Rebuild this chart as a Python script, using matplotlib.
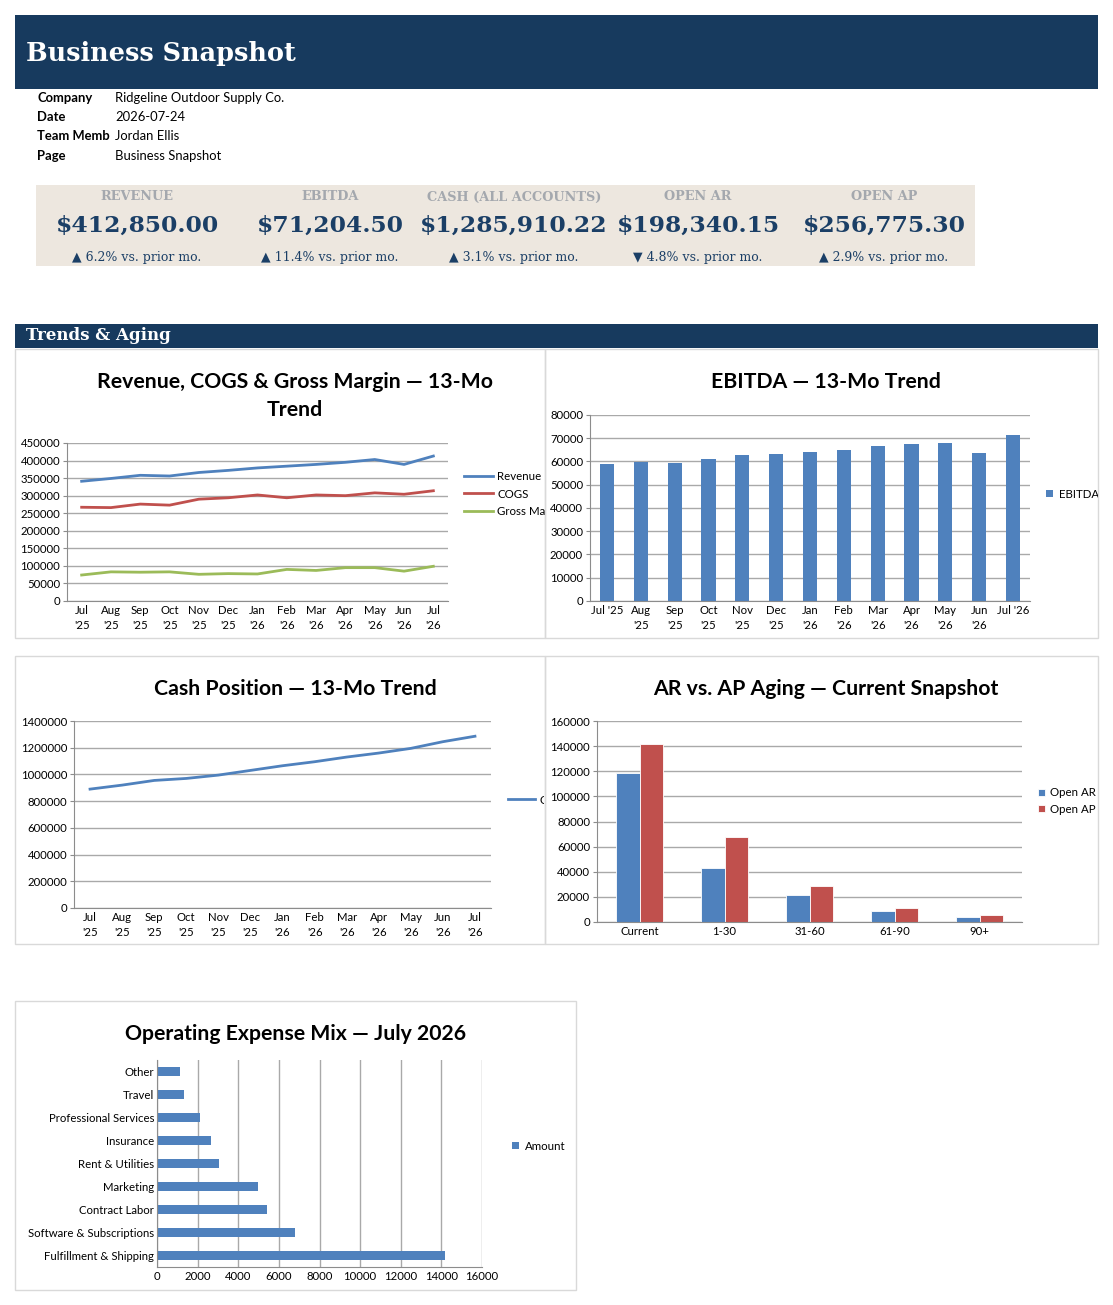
import matplotlib
matplotlib.use("Agg")
import matplotlib.pyplot as plt
from matplotlib.patches import Rectangle
from matplotlib.transforms import Bbox, TransformedBbox
from matplotlib.ticker import FuncFormatter, MultipleLocator
import numpy as np

W, H = 1113, 1305
NAVY = "#173a5e"
BLUE = "#4f81bd"
RED = "#c0504d"
GREEN = "#9bbb59"
GRID = "#a9a9a9"
SANS = ["Lato", "DejaVu Sans"]
SERIF = ["DejaVu Serif", "DejaVu Sans"]

# ---- data ----
info_labels = ["Company", "Date", "Team Memb", "Page"]
info_values = ["Ridgeline Outdoor Supply Co.", "2026-07-24", "Jordan Ellis", "Business Snapshot"]

kpi_names = ["REVENUE", "EBITDA", "CASH (ALL ACCOUNTS)", "OPEN AR", "OPEN AP"]
kpi_values = ["$412,850.00", "$71,204.50", "$1,285,910.22", "$198,340.15", "$256,775.30"]
kpi_changes = ["\u25b2 6.2% vs. prior mo.", "\u25b2 11.4% vs. prior mo.", "\u25b2 3.1% vs. prior mo.",
               "\u25bc 4.8% vs. prior mo.", "\u25b2 2.9% vs. prior mo."]

months = ["Jul '25", "Aug '25", "Sep '25", "Oct '25", "Nov '25", "Dec '25", "Jan '26",
          "Feb '26", "Mar '26", "Apr '26", "May '26", "Jun '26", "Jul '26"]
revenue = [341000, 349000, 358000, 356000, 366000, 372000, 379000, 384000, 389000, 395000, 403000, 389000, 412850]
cogs = [267000, 266000, 276000, 273000, 290000, 294000, 302000, 294000, 302000, 300000, 308000, 304000, 314000]
gross_margin = [74000, 83000, 82000, 83000, 76000, 78000, 77000, 90000, 87000, 95000, 95000, 85000, 98850]
ebitda = [58900, 59800, 59300, 61000, 62800, 63200, 64100, 65000, 66700, 67600, 68000, 63700, 71204.5]
cash = [890000, 920000, 955000, 970000, 995000, 1030000, 1065000, 1095000, 1130000, 1160000, 1195000, 1245000, 1285910]

aging_buckets = ["Current", "1-30", "31-60", "61-90", "90+"]
open_ar = [118500, 43000, 21300, 8600, 4300]
open_ap = [142000, 67800, 28500, 10900, 5300]

opex_cats = ["Fulfillment & Shipping", "Software & Subscriptions", "Contract Labor", "Marketing",
             "Rent & Utilities", "Insurance", "Professional Services", "Travel", "Other"]
opex_amt = [14200, 6800, 5400, 4950, 3050, 2650, 2100, 1350, 1150]

fig = plt.figure(figsize=(W / 100, H / 100), dpi=100)

# canvas axes in pixel coords for the page furniture
cv = fig.add_axes([0, 0, 1, 1])
cv.set_xlim(0, W)
cv.set_ylim(H, 0)
cv.axis("off")
cv.set_zorder(-1)

cv.add_patch(Rectangle((15, 15), 1083, 74, color=NAVY, lw=0))
cv.text(26, 53, "Business Snapshot", color="white", fontsize=18.4, fontweight="bold",
        family=SERIF, va="center", ha="left")

for i, (lab, val) in enumerate(zip(info_labels, info_values)):
    y = [98, 117, 136, 156][i]
    cv.text(37, y, lab, fontsize=9.4, fontweight="bold", family=SANS, va="center")
    cv.text(115, y, val, fontsize=9.4, family=SANS, va="center")

cv.add_patch(Rectangle((36, 185), 939, 81, color="#ede7df", lw=0))
kpi_x = [137, 330, 514, 698, 884]
for x, n, v, c in zip(kpi_x, kpi_names, kpi_values, kpi_changes):
    cv.text(x, 197, n, fontsize=9.3, fontweight="bold", family=SERIF, color="#a4a8ae",
            ha="center", va="center")
    cv.text(x, 226, v, fontsize=16.8, fontweight="bold", family=SERIF, color="#1b3f66",
            ha="center", va="center")
    cv.text(x, 257, c, fontsize=9, family=SERIF, color="#1b3f66", ha="center", va="center")

cv.add_patch(Rectangle((15, 324), 1083, 24, color=NAVY, lw=0))
cv.text(26, 336, "Trends & Aging", color="white", fontsize=12, fontweight="bold",
        family=SERIF, va="center")

panels = [(15, 349, 545, 638), (545, 349, 1098, 638), (15, 656, 545, 944),
          (545, 656, 1098, 944), (15, 1001, 576, 1290)]
for x0, y0, x1, y1 in panels:
    cv.add_patch(Rectangle((x0, y0), x1 - x0, y1 - y0, fill=False, ec="#d9d9d9", lw=1))

titles = ["Revenue, COGS & Gross Margin \u2014 13-Mo\nTrend", "EBITDA \u2014 13-Mo Trend",
          "Cash Position \u2014 13-Mo Trend", "AR vs. AP Aging \u2014 Current Snapshot",
          "Operating Expense Mix \u2014 July 2026"]
title_pos = [(295, 396), (826, 382), (295, 689), (826, 689), (296, 1034)]
for t, (x, y) in zip(titles, title_pos):
    cv.text(x, y, t, fontsize=15.3, fontweight="bold", family=SANS, ha="center", va="center",
            linespacing=1.45)


def box(x0, y0, x1, y1):
    return [x0 / W, 1 - y1 / H, (x1 - x0) / W, (y1 - y0) / H]


def style(ax, vertical_grid=False):
    for s in ["top", "right"]:
        ax.spines[s].set_visible(False)
    ax.spines["left"].set_color("#8c8c8c")
    ax.spines["bottom"].set_color("#8c8c8c")
    ax.grid(True, axis="x" if vertical_grid else "y", color=GRID, lw=1)
    ax.set_axisbelow(True)
    ax.tick_params(labelsize=8.2, colors="#8c8c8c", labelcolor="black", length=3, pad=2)
    for lab in ax.get_xticklabels() + ax.get_yticklabels():
        lab.set_family(SANS)
        lab.set_linespacing(1.45)


def legend(ax, x, y, clip_x, **kw):
    leg = ax.legend(loc="center left", bbox_to_anchor=(x / W, 1 - y / H),
                    bbox_transform=fig.transFigure, frameon=False,
                    prop={"family": SANS, "size": 8.3}, borderpad=0, borderaxespad=0, **kw)
    clip = TransformedBbox(Bbox.from_extents(0, 0, clip_x / W, 1), fig.transFigure)
    for t in leg.get_texts():
        t.set_clip_box(clip)
        t.set_clip_on(True)
    return leg


fmt = FuncFormatter(lambda v, p: f"{v:.0f}")
wrapped = [m.replace(" ", "\n") for m in months]
xs = np.arange(len(months))

# chart 1 (legend labels cut at the panel edge, as in the sheet)
ax1 = fig.add_axes(box(67, 443, 448, 601))
ax1.plot(xs, revenue, color=BLUE, lw=2, label="Revenue")
ax1.plot(xs, cogs, color=RED, lw=2, label="COGS")
ax1.plot(xs, gross_margin, color=GREEN, lw=2, label="Gross Ma")
ax1.set_xlim(-0.5, 12.5)
ax1.set_ylim(0, 450000)
ax1.yaxis.set_major_locator(MultipleLocator(50000))
ax1.yaxis.set_major_formatter(fmt)
ax1.set_xticks(xs, wrapped)
style(ax1)
ax1.tick_params(axis="x", length=0, pad=3)
legend(ax1, 464, 494, 545, handlelength=2.5, handletextpad=0.4, labelspacing=0.55)

# chart 2
ax2 = fig.add_axes(box(590, 415, 1030, 601))
ax2.bar(xs, ebitda, width=0.42, color=BLUE, label="EBITDA")
ax2.set_xlim(-0.5, 12.5)
ax2.set_ylim(0, 80000)
ax2.yaxis.set_major_locator(MultipleLocator(10000))
ax2.yaxis.set_major_formatter(fmt)
ax2.set_xticks(xs, [months[0]] + wrapped[1:-1] + [months[-1]])
style(ax2)
ax2.tick_params(axis="x", length=0, pad=3)
legend(ax2, 1046, 494, 1098, handlelength=0.6, handleheight=0.6, handletextpad=0.5)

# chart 3
ax3 = fig.add_axes(box(74, 721, 491, 908))
ax3.plot(xs, cash, color=BLUE, lw=2, label="C")
ax3.set_xlim(-0.5, 12.5)
ax3.set_ylim(0, 1400000)
ax3.yaxis.set_major_locator(MultipleLocator(200000))
ax3.yaxis.set_major_formatter(fmt)
ax3.set_xticks(xs, wrapped)
style(ax3)
ax3.tick_params(axis="x", length=0, pad=3)
legend(ax3, 508, 800, 544, handlelength=2.3, handletextpad=0.4)

# chart 4
ax4 = fig.add_axes(box(597, 721, 1022, 922))
bx = np.arange(len(aging_buckets))
ax4.bar(bx - 0.14, open_ar, width=0.28, color=BLUE, ec="white", lw=0.6, label="Open AR")
ax4.bar(bx + 0.14, open_ap, width=0.28, color=RED, ec="white", lw=0.6, label="Open AP")
ax4.set_xlim(-0.5, 4.5)
ax4.set_ylim(0, 160000)
ax4.yaxis.set_major_locator(MultipleLocator(20000))
ax4.yaxis.set_major_formatter(fmt)
ax4.set_xticks(bx, aging_buckets)
style(ax4)
ax4.tick_params(axis="x", length=0, pad=3)
legend(ax4, 1038, 801, 1098, handlelength=0.6, handleheight=0.6, handletextpad=0.4,
       labelspacing=0.45)

# chart 5
ax5 = fig.add_axes(box(157, 1060, 482, 1267))
cy = np.arange(len(opex_cats))
ax5.barh(cy, opex_amt, height=0.38, color=BLUE, label="Amount")
ax5.set_ylim(-0.5, 8.5)
ax5.set_xlim(0, 16000)
ax5.xaxis.set_major_locator(MultipleLocator(2000))
ax5.set_yticks(cy, opex_cats)
style(ax5, vertical_grid=True)
ax5.tick_params(axis="y", length=0)
ax5.tick_params(axis="x", length=0, pad=3)
legend(ax5, 512, 1146, 576, handlelength=0.6, handleheight=0.6, handletextpad=0.5)

fig.savefig("out.png", dpi=100)
